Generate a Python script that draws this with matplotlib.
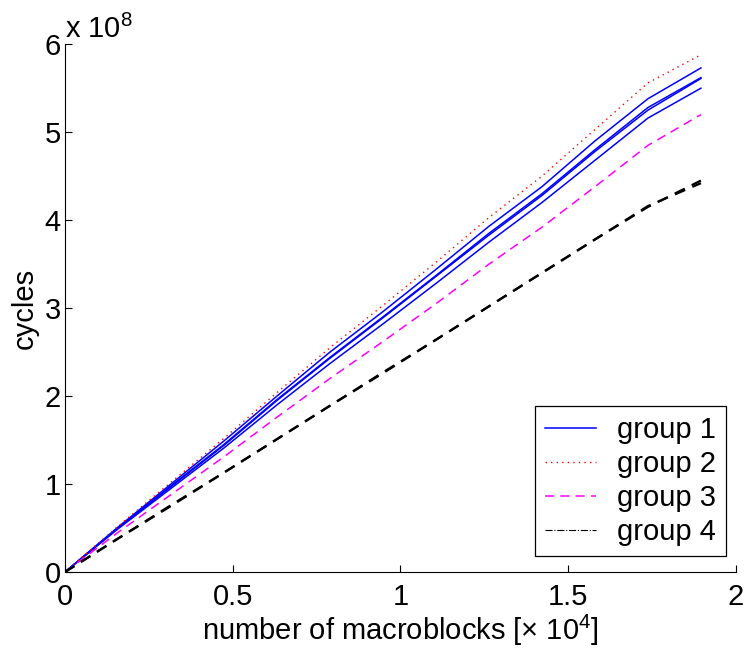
import matplotlib
matplotlib.use('Agg')
import matplotlib.pyplot as plt
from matplotlib.lines import Line2D
import numpy as np

# macroblock counts [x 1e4] and cycle counts [x 1e8]
mb = [0, 0.158, 0.316, 0.474, 0.632, 0.79, 0.948, 1.106, 1.264, 1.422, 1.58, 1.738, 1.896]

group1 = [
    [0, 0.51, 1.00, 1.49, 2.00, 2.50, 2.96, 3.44, 3.93, 4.38, 4.90, 5.38, 5.73],
    [0, 0.50, 0.98, 1.45, 1.96, 2.44, 2.90, 3.37, 3.85, 4.30, 4.80, 5.28, 5.62],
    [0, 0.50, 0.97, 1.44, 1.95, 2.43, 2.89, 3.36, 3.83, 4.28, 4.78, 5.25, 5.61],
    [0, 0.49, 0.95, 1.41, 1.90, 2.37, 2.82, 3.28, 3.75, 4.20, 4.68, 5.16, 5.50],
]
group2 = [
    [0, 0.52, 1.02, 1.52, 2.04, 2.55, 3.03, 3.52, 4.03, 4.50, 5.03, 5.56, 5.88],
]
group3 = [
    [0, 0.45, 0.88, 1.31, 1.76, 2.20, 2.62, 3.05, 3.50, 3.92, 4.38, 4.85, 5.20],
]
group4 = [
    [0, 0.38, 0.76, 1.13, 1.51, 1.89, 2.27, 2.64, 3.02, 3.40, 3.78, 4.15, 4.45],
    [0, 0.38, 0.75, 1.13, 1.51, 1.89, 2.26, 2.64, 3.02, 3.40, 3.78, 4.16, 4.42],
]
labels = ['group 1', 'group 2', 'group 3', 'group 4']

plt.rc('font', family='Liberation Sans', size=21)
plt.rc('mathtext', fontset='custom', rm='Liberation Sans')

fig = plt.figure(figsize=(7.47, 6.5), dpi=100)
ax = fig.add_axes([0.087, 0.12, 0.898, 0.812])

for y in group1:
    ax.plot(mb, y, color='#0000ff', lw=1.1)
for y in group2:
    ax.plot(mb, y, color='#ff0000', lw=1.0, linestyle=(0, (1, 3)))
for y in group3:
    ax.plot(mb, y, color='#ff00ff', lw=1.1, linestyle=(0, (6, 4)))
for y in group4:
    ax.plot(mb, y, color='black', lw=1.6, linestyle=(0, (5, 3.5)))

ax.set_xlim(0, 2)
ax.set_ylim(0, 6)
ax.set_xticks([0, 0.5, 1, 1.5, 2])
ax.set_xticklabels(['0', '0.5', '1', '1.5', '2'])
ax.set_yticks([0, 1, 2, 3, 4, 5, 6])
ax.tick_params(direction='in', length=5, width=0.8)
ax.tick_params(axis='x', pad=8)
ax.tick_params(axis='y', pad=3)
ax.spines['top'].set_visible(False)
ax.spines['right'].set_visible(False)
ax.set_xlabel(r'number of macroblocks [$\times$ 10$^4$]', labelpad=1)
ax.set_ylabel('cycles', labelpad=4)
ax.text(0.0, 1.0, r'x 10$^8$', transform=ax.transAxes, ha='left', va='bottom')

handles = [
    Line2D([], [], color='#0000ff', lw=1.1),
    Line2D([], [], color='#ff0000', lw=1.0, linestyle=(0, (1, 3))),
    Line2D([], [], color='#ff00ff', lw=1.1, linestyle=(0, (6, 4))),
    Line2D([], [], color='black', lw=0.8, linestyle='-.'),
]
leg = ax.legend(handles, labels, loc='lower right', bbox_to_anchor=(0.985, 0.03),
                fancybox=False, edgecolor='black', framealpha=1,
                handlelength=1.75, handletextpad=0.7, borderpad=0.35,
                labelspacing=0.2, borderaxespad=0)
leg.get_frame().set_linewidth(0.9)

fig.savefig('out.png', dpi=100)
